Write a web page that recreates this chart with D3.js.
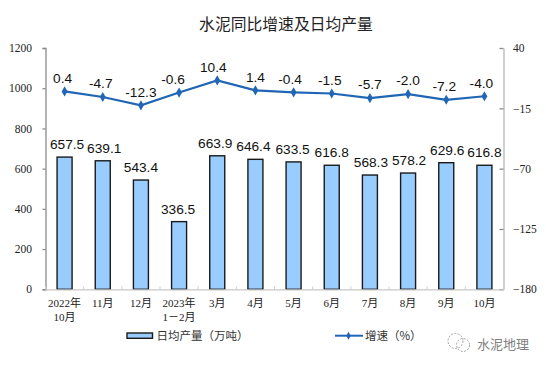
<!DOCTYPE html>
<html><head><meta charset="utf-8">
<script src="https://cdnjs.cloudflare.com/ajax/libs/d3/7.8.5/d3.min.js"></script>
<style>
html,body{margin:0;padding:0;background:#fff}
svg{display:block}
.lat{font-family:"Liberation Sans",Arial,sans-serif}
.ser{font-family:"Liberation Serif","Noto Sans CJK SC",serif}
.cjk{font-family:"Noto Sans CJK SC",sans-serif}
</style></head><body>
<svg id="c" width="546" height="368"></svg>
<script>
const categories=[["2022年","10月"],["11月"],["12月"],["2023年","1－2月"],["3月"],["4月"],["5月"],["6月"],["7月"],["8月"],["9月"],["10月"]];
const output=[657.5,639.1,543.4,336.5,663.9,646.4,633.5,616.8,568.3,578.2,629.6,616.8];
const growth=[0.4,-4.7,-12.3,-0.6,10.4,1.4,-0.4,-1.5,-5.7,-2.0,-7.2,-4.0];
const growthLabels=["0.4","-4.7","-12.3","-0.6","10.4","1.4","-0.4","-1.5","-5.7","-2.0","-7.2","-4.0"];
const outputLabels=["657.5","639.1","543.4","336.5","663.9","646.4","633.5","616.8","568.3","578.2","629.6","616.8"];
const leftTicks=[0,200,400,600,800,1000,1200];
const rightTicks=[-180,-125,-70,-15,40];
const title="水泥同比增速及日均产量";
const legendBar="日均产量（万吨）";
const legendLine="增速（%）";
const watermark="水泥地理";
// hand-placed label nudges from the source chart
const outputNudge=[2.5,1.5,0,-1,-2,-2,-1,0,1,1,1,0];
const growthNudge=[-2,-2,0,-6,-4,0,-3.5,-2,0,0,-2,-3];

const svg=d3.select("#c");
const L=45.5,R=503.5,T=48,B=289.3;
const x=d3.scaleBand().domain(d3.range(categories.length)).range([L,R]);
const yL=d3.scaleLinear().domain([0,1200]).range([B,T]);
const yR=d3.scaleLinear().domain([-180,40]).range([B,T]);
const axisCol="#8c8c8c", blue="#2166b5";
const cx=i=>x(i)+x.bandwidth()/2;

svg.append("text").attr("class","cjk").attr("x",286).attr("y",30).attr("text-anchor","middle")
  .attr("font-size",15.8).attr("fill","#222").text(title);

svg.append("g").selectAll("rect").data(output).join("rect")
  .attr("x",(d,i)=>cx(i)-7.5).attr("width",15)
  .attr("y",d=>yL(d)).attr("height",d=>B-yL(d))
  .attr("fill","#99ccff").attr("stroke","#1a1a1a").attr("stroke-width",1.4);

const gl=svg.append("g").attr("transform",`translate(${L},0)`).call(d3.axisLeft(yL).tickValues(leftTicks).tickFormat(d3.format("d")).tickSize(3).tickPadding(10.5));
const gr=svg.append("g").attr("transform",`translate(${R},0)`).call(d3.axisRight(yR).tickValues(rightTicks).tickFormat(d3.format("d")).tickSizeInner(-4).tickSizeOuter(0).tickPadding(9.5));
const gb=svg.append("g").attr("transform",`translate(0,${B})`).call(d3.axisBottom(x).tickValues([]).tickSize(0));
svg.append("g").selectAll("line").data(d3.range(categories.length+1)).join("line")
  .attr("x1",i=>L+i*x.step()).attr("x2",i=>L+i*x.step()).attr("y1",B).attr("y2",B-3).attr("stroke","#d0d0d0");
[gl,gr,gb].forEach(g=>{g.selectAll("path,line").attr("stroke",axisCol).attr("stroke-width",1.3);
  g.selectAll("text").attr("class","ser").attr("font-size",11.5).attr("fill","#222");});
gb.select("path").attr("stroke","#c8c8c8");
gr.select("path").attr("stroke","#c4c4c4").attr("stroke-width",1.6);

const xl=svg.append("g").selectAll("text").data(categories).join("text")
  .attr("class","ser").attr("font-size",11).attr("fill","#222").attr("text-anchor","middle")
  .attr("transform",(d,i)=>`translate(${cx(i)},0)`);
xl.selectAll("tspan").data(d=>d).join("tspan").attr("x",0).attr("y",(d,j)=>307+j*14).text(d=>d);

const line=d3.line().x((d,i)=>cx(i)).y(d=>yR(d));
svg.append("path").attr("d",line(growth)).attr("fill","none").attr("stroke",blue).attr("stroke-width",2.2);
const sym=d3.symbol().type(d3.symbolDiamond).size(30);
svg.append("g").selectAll("path").data(growth).join("path").attr("d",sym)
  .attr("transform",(d,i)=>`translate(${cx(i)},${yR(d)})`).attr("fill",blue);

svg.append("g").selectAll("text").data(outputLabels).join("text").attr("class","lat")
  .attr("font-size",13.7).attr("fill","#111").attr("text-anchor","middle")
  .attr("x",(d,i)=>cx(i)+outputNudge[i]).attr("y",(d,i)=>yL(output[i])-8).text(d=>d);
svg.append("g").selectAll("text").data(growthLabels).join("text").attr("class","lat")
  .attr("font-size",13.7).attr("fill","#111").attr("text-anchor","middle")
  .attr("x",(d,i)=>cx(i)+growthNudge[i]).attr("y",(d,i)=>yR(growth[i])-8.7).text(d=>d);

svg.append("rect").attr("x",127).attr("y",333).attr("width",25.5).attr("height",5.3).attr("fill","#99ccff").attr("stroke","#1a1a1a").attr("stroke-width",1.4);
svg.append("text").attr("class","cjk").attr("x",156.5).attr("y",340).attr("font-size",11.5).attr("fill","#333").text(legendBar);
svg.append("line").attr("x1",335).attr("x2",363).attr("y1",335.7).attr("y2",335.7).attr("stroke",blue).attr("stroke-width",2);
svg.append("path").attr("d",d3.symbol().type(d3.symbolDiamond).size(18)).attr("transform","translate(348.5,335.7)").attr("fill",blue);
svg.append("text").attr("class","cjk").attr("x",365).attr("y",340).attr("font-size",11.5).attr("fill","#333").text(legendLine);

const wm=svg.append("g").attr("fill","none").attr("stroke","#9a9a9a").attr("stroke-width",0.9).attr("stroke-dasharray","2 1.4");
wm.append("circle").attr("cx",455.5).attr("cy",341).attr("r",7.5);
wm.append("circle").attr("cx",463).attr("cy",345).attr("r",6.5);
svg.append("text").attr("class","cjk").attr("x",477).attr("y",349).attr("font-size",13).attr("fill","#808080").text(watermark);
</script></body></html>
